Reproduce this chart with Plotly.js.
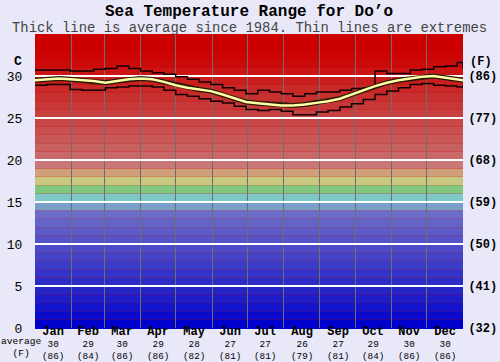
<!DOCTYPE html>
<html>
<head>
<meta charset="utf-8">
<script src="https://cdn.plot.ly/plotly-3.0.1.min.js"></script>
<style>html,body{margin:0;padding:0;background:#e8e8f8;}#chart{width:500px;height:362px;}</style>
</head>
<body>
<div id="chart"></div>
<script>
// ---- data ----
const months = ['Jan','Feb','Mar','Apr','May','Jun','Jul','Aug','Sep','Oct','Nov','Dec'];
const avgC = [30,29,30,29,28,27,27,26,27,29,30,30];
const avgF = [86,84,86,86,82,81,81,79,81,84,86,86];
const monthStarts = [0,31,59,90,120,151,181,212,243,273,304,334,365];
const days = [0,10,20,30,40,50,60,70,80,90,100,110,120,130,140,150,160,170,180,190,200,210,220,230,240,250,260,270,280,290,300,310,320,330,340,350,360,365];
const avgT = [29.5,29.6,29.7,29.6,29.5,29.4,29.2,29.4,29.6,29.7,29.6,29.3,28.9,28.6,28.4,28.2,27.8,27.35,26.9,26.75,26.65,26.5,26.5,26.6,26.8,27.0,27.3,27.8,28.3,28.8,29.2,29.5,29.7,29.9,30.0,29.8,29.6,29.5];
const maxT = [30.7,30.7,30.7,30.6,30.6,30.8,30.9,31.2,30.9,30.6,30.4,30.2,29.9,29.6,29.3,29.0,28.6,28.3,27.9,28.3,28.1,27.9,27.6,27.9,28.1,28.1,28.3,28.5,28.6,30.6,30.3,30.3,30.7,30.8,31.1,31.2,31.6,30.9];
const minT = [28.9,29.0,29.0,28.4,28.3,28.3,28.6,28.7,28.8,28.8,28.7,28.3,27.8,27.6,27.3,27.0,26.8,26.4,26.0,25.9,26.0,25.8,25.4,25.4,25.7,25.9,26.3,26.7,27.2,27.8,28.2,28.6,29.0,29.1,28.9,28.8,28.7,28.9];
const cTicks = [0,5,10,15,20,25,30];
const fTickText = ['(32)','(41)','(50)','(59)','(68)','(77)','(86)'];
// background band colours, one per degree from 0-1 up to 34-35
const bandColors = ['#0000cc','#0a0acc','#1414cc','#1c1cc8','#2424c8','#2c2cc8','#3434c8','#3c3cc8','#4444c8','#4c4cc8','#5454c8','#5c5cc8','#6464c8','#6c6cc8','#78a0c8','#80c8c8','#80c880','#c8c880','#d0a078','#c87878','#c86868','#c86060','#c85858','#c85050','#c84848','#c84040','#c83838','#c83030','#c82828','#ca1e1e','#cc1414','#cc0a0a','#cc0404','#cc0000','#cc0000'];

const FONT = 'Liberation Mono, Courier New, monospace';

const midMonth = months.map((m,i)=> (monthStarts[i]+monthStarts[i+1])/2);

const shapes = bandColors.map((c,i)=>({type:'rect',xref:'paper',x0:0,x1:1,yref:'y',y0:i,y1:i+1,fillcolor:c,line:{width:0},layer:'below'}));

const traces = [
  {x:days,y:maxT,mode:'lines',line:{color:'#100000',width:1.5,shape:'hv'},hoverinfo:'skip',showlegend:false},
  {x:days,y:minT,mode:'lines',line:{color:'#100000',width:1.5,shape:'hv'},hoverinfo:'skip',showlegend:false},
  {x:days,y:avgT,mode:'lines',line:{color:'#2a1a00',width:5},hoverinfo:'skip',showlegend:false},
  {x:days,y:avgT,mode:'lines',line:{color:'#ffffa8',width:2.5},hoverinfo:'skip',showlegend:false},
  {x:days,y:avgT,yaxis:'y2',mode:'lines',opacity:0,line:{width:0},hoverinfo:'skip',showlegend:false}
];

const annotations = [];
months.forEach((m,i)=>{
  annotations.push({x:midMonth[i],xref:'x',y:-0.053,yref:'paper',
    text:'<span style="font-size:12px;font-weight:bold">'+m+'</span><br>'+avgC[i]+'<br>('+avgF[i]+')',
    showarrow:false,yanchor:'middle',borderpad:0,font:{family:FONT,size:9.3,color:'#000'}});
});
annotations.push({text:'average<br>(F)',xref:'paper',x:-0.032,xanchor:'center',y:-0.066,yref:'paper',yanchor:'middle',borderpad:0,showarrow:false,font:{family:FONT,size:9.6,color:'#000'}});
annotations.push({text:'<b>C</b>',xref:'paper',x:-0.04,xanchor:'center',y:0.905,yref:'paper',yanchor:'middle',showarrow:false,font:{family:FONT,size:13,color:'#000'}});
annotations.push({text:'<b>(F)</b>',xref:'paper',x:1.012,xanchor:'left',y:0.905,yref:'paper',yanchor:'middle',showarrow:false,font:{family:FONT,size:12,color:'#000'}});
annotations.push({text:'Thick line is average since 1984. Thin lines are extremes',xref:'paper',x:0.5,xanchor:'center',y:1.0204,yref:'paper',yanchor:'middle',borderpad:0,showarrow:false,font:{family:FONT,size:13.9,color:'#444'}});

const layout = {
  width:500,height:362,
  margin:{l:35,r:37,t:34,b:34,pad:0},
  paper_bgcolor:'#e8e8f8',plot_bgcolor:'#cc0000',
  title:{text:'<b>Sea Temperature Range for Do’o</b>',font:{family:FONT,size:16,color:'#000'},x:0.5,xanchor:'center',xref:'paper',y:0.972,yanchor:'middle',yref:'container'},
  xaxis:{range:[0,365],tickvals:monthStarts,showticklabels:false,ticks:'',showgrid:true,gridcolor:'#6e6e6e',gridwidth:1,zeroline:false,showline:false,fixedrange:true},
  yaxis:{range:[0,35],tickvals:cTicks,ticks:'outside',ticklen:9,tickcolor:'rgba(0,0,0,0)',showgrid:true,gridcolor:'#ffffff',gridwidth:2,zeroline:true,zerolinecolor:'#0000cc',zerolinewidth:1,showline:false,tickfont:{family:FONT,size:13,color:'#000'},fixedrange:true},
  yaxis2:{range:[0,35],overlaying:'y',side:'right',tickvals:cTicks,ticktext:fTickText,ticks:'outside',ticklen:2,tickcolor:'rgba(0,0,0,0)',showgrid:false,zeroline:false,showline:false,tickfont:{family:FONT,size:12,color:'#000',weight:'bold'},fixedrange:true},
  shapes:shapes,
  annotations:annotations,
  showlegend:false
};

Plotly.newPlot('chart',traces,layout,{staticPlot:true,displayModeBar:false});
</script>
</body>
</html>
